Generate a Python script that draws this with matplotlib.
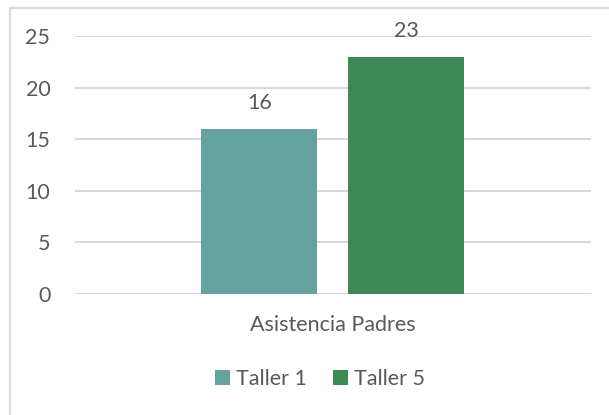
import matplotlib
matplotlib.use("Agg")
import matplotlib.pyplot as plt
from matplotlib.patches import Rectangle, Patch

category = "Asistencia Padres"
series = ["Taller 1", "Taller 5"]
values = [16, 23]
colors = ["#63A29E", "#3E8855"]
yticks = [0, 5, 10, 15, 20, 25]

W, H = 609, 415
fig = plt.figure(figsize=(W/100, H/100), dpi=100)
plt.rcParams['font.family'] = ['Lato', 'DejaVu Sans']
txt = "#595959"
fs = 15.5

# chart border
fig.patches.append(Rectangle((10/W, -0.1), 1.2, 1 - 8/H + 0.1, transform=fig.transFigure,
                             fill=False, edgecolor="#d9d9d9", linewidth=1.5))

ax = fig.add_axes([74.6/W, 1 - 294/H, (591 - 74.6)/W, (294 - 36.3)/H])
ax.set_xlim(-258, 258)
ax.set_ylim(0, 25)
bw = 116
gap = 31
offs = [-(bw + gap)/2, (bw + gap)/2]
for o, v, c in zip(offs, values, colors):
    ax.bar(o, v, width=bw, color=c, zorder=3)
    ax.annotate(str(v), (o, v), xytext=(0, 18.5), textcoords="offset points",
                ha="center", va="center", fontsize=fs, color=txt)

ax.set_yticks(yticks)
ax.set_yticklabels([str(t) for t in yticks], fontsize=fs, color=txt)
ax.tick_params(axis="y", length=0, pad=17.5)
ax.set_xticks([])
for s in ax.spines.values():
    s.set_visible(False)
ax.grid(axis="y", color="#d9d9d9", linewidth=1.5, zorder=0)
ax.set_axisbelow(True)

fig.text(333/W, 1 - 325/H, category, ha="center", va="center", fontsize=fs, color=txt)

handles = [Patch(facecolor=c, edgecolor="none") for c in colors]
fig.legend(handles, series, loc="center", bbox_to_anchor=(320/W, 1 - 379/H),
           ncol=2, frameon=False, fontsize=fs, labelcolor=txt,
           handlelength=0.7, handleheight=0.7, handletextpad=0.3, columnspacing=1.2)

fig.savefig("out.png", dpi=100)
